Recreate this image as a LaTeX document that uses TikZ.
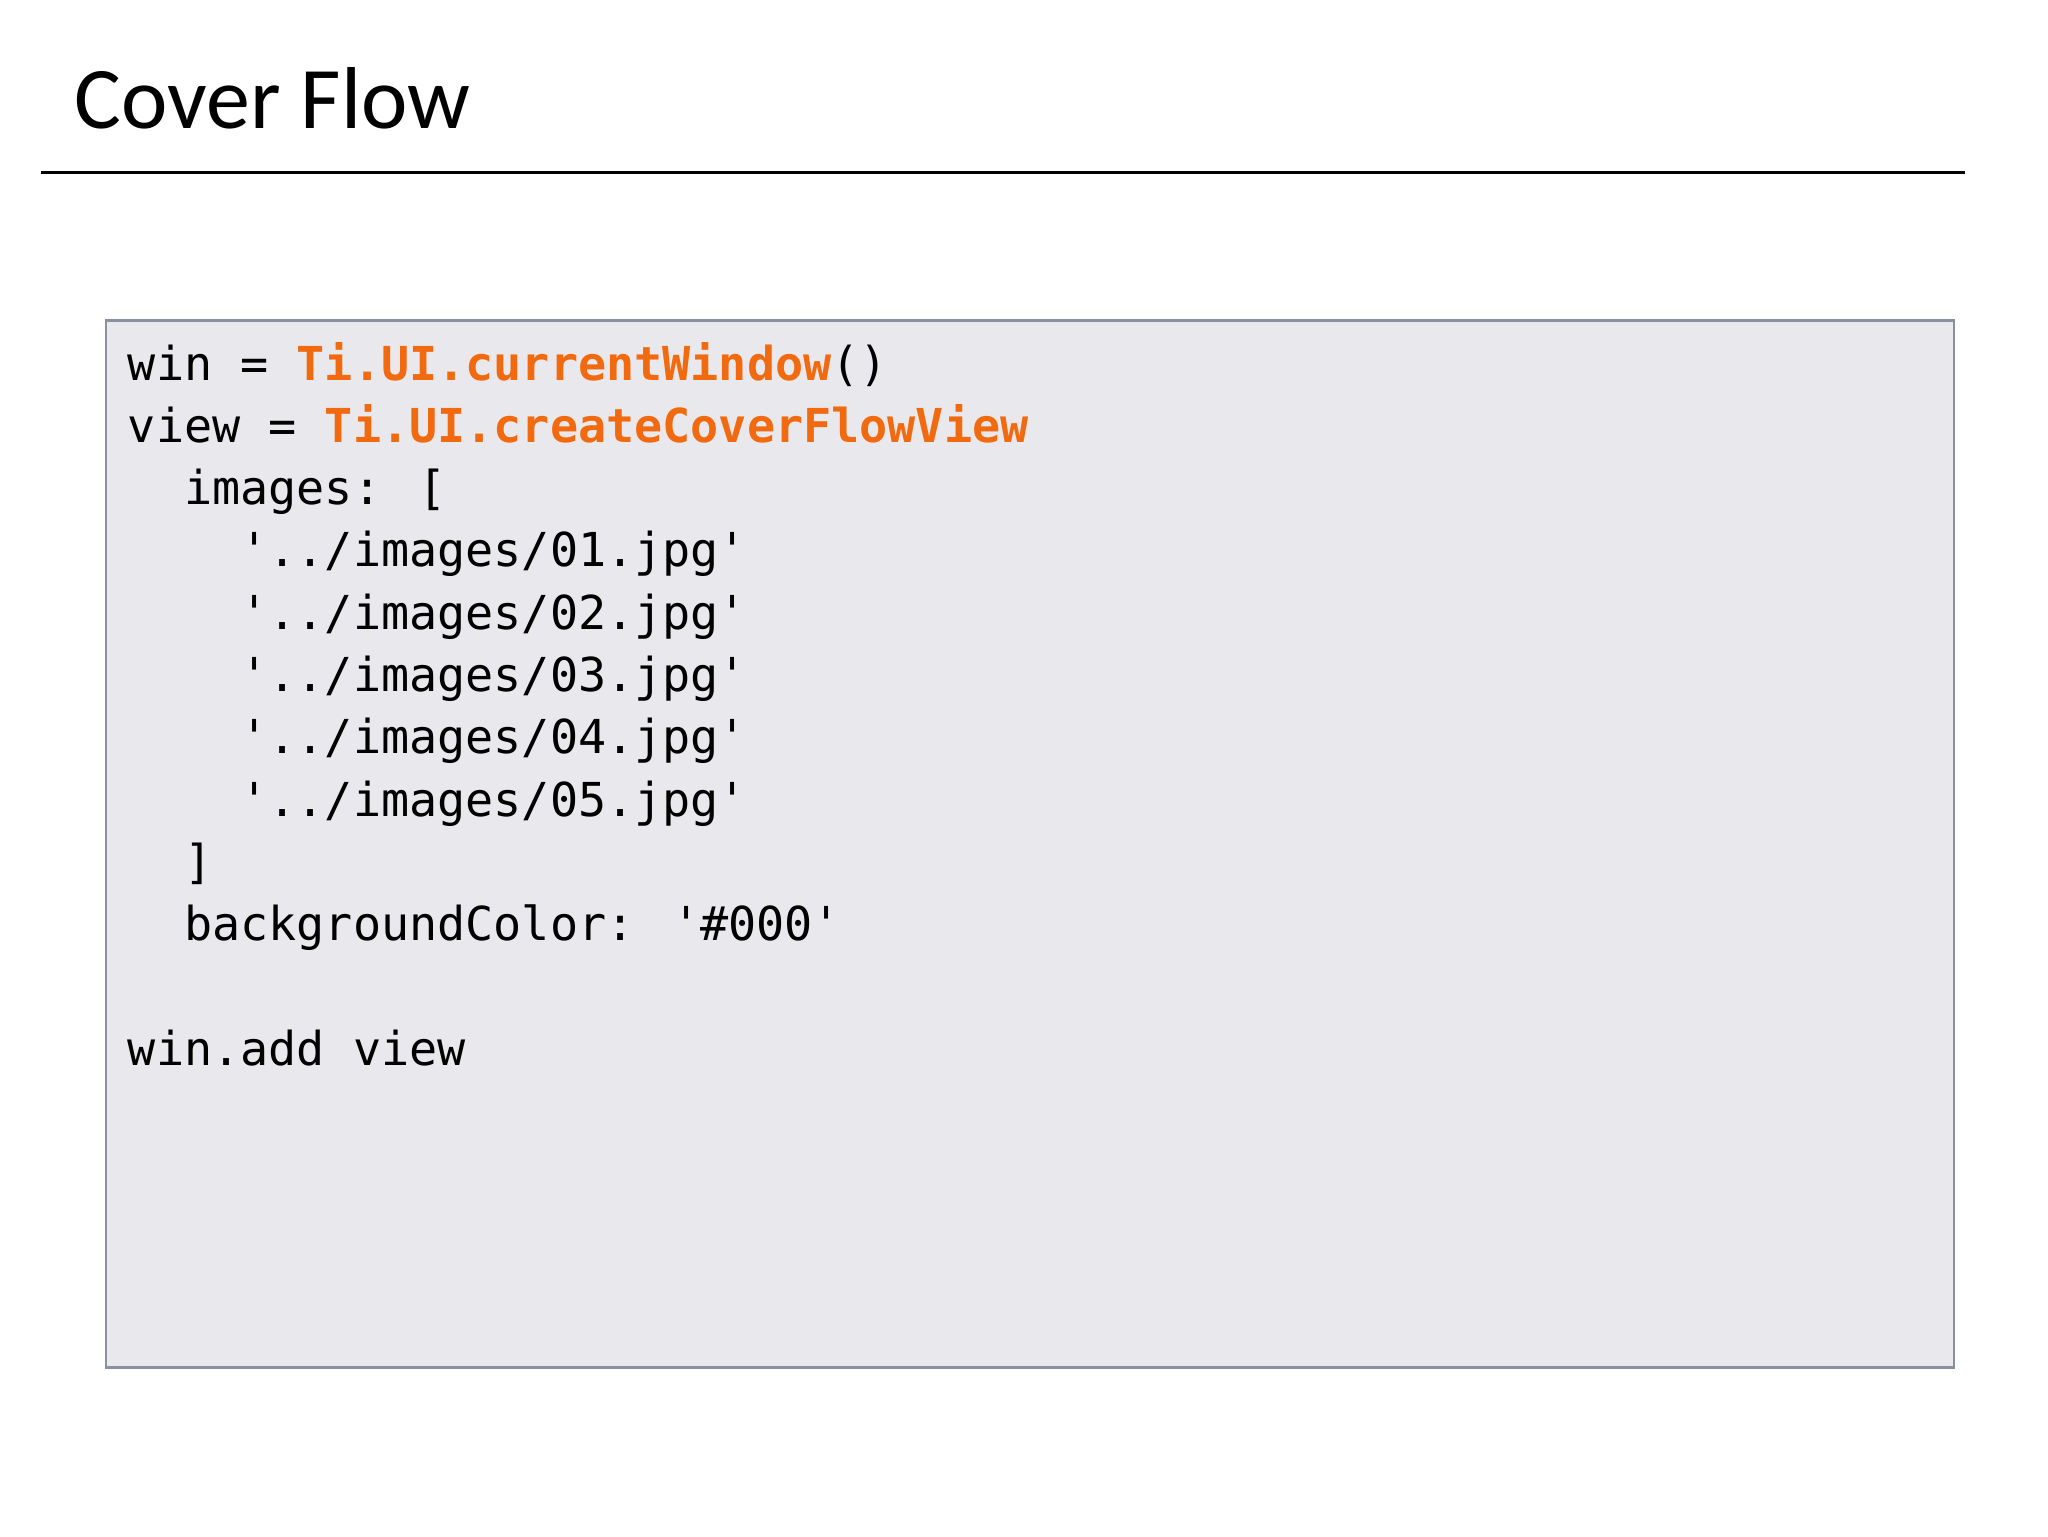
\documentclass[tikz,border=0pt]{standalone}
\usepackage{fontspec}
\setmainfont{Carlito}
\newfontfamily\codefont{DejaVu Sans Mono}
\definecolor{boxfill}{HTML}{E9E8EC}
\definecolor{boxline}{HTML}{8A90A0}
\definecolor{kw}{HTML}{F26A0F}
\begin{document}
\begin{tikzpicture}[x=0.013247cm,y=-0.013247cm,
  code/.style={anchor=base west,inner sep=0pt,font=\codefont\fontsize{13.3pt}{16pt}\selectfont}]
\useasboundingbox (0,0) rectangle (1546,1160);
\node[anchor=base west,inner sep=0pt,font=\fontsize{25pt}{30pt}\selectfont] (title) at (56,97) {Cover Flow};
\draw[line width=0.9pt] (31,130) -- (1483,130);
\draw[fill=boxfill,draw=boxline,line width=0.8pt] (80,242) rectangle (1475,1032);
\node[code] (l1) at (96,287) {win = \textcolor{kw}{\bfseries Ti.UI.currentWindow}()};
\node[code] (l2) at (96,334) {view = \textcolor{kw}{\bfseries Ti.UI.createCoverFlowView}};
\node[code] (l3) at (96,381) {\ \ images: [};
\node[code] (l4) at (96,428) {\ \ \ \ '../images/01.jpg'};
\node[code] (l5) at (96,475) {\ \ \ \ '../images/02.jpg'};
\node[code] (l6) at (96,522) {\ \ \ \ '../images/03.jpg'};
\node[code] (l7) at (96,569) {\ \ \ \ '../images/04.jpg'};
\node[code] (l8) at (96,616) {\ \ \ \ '../images/05.jpg'};
\node[code] (l9) at (96,663) {\ \ ]};
\node[code] (l10) at (96,710) {\ \ backgroundColor: '\#000'};
\node[code] (l11) at (96,804) {win.add view};
\end{tikzpicture}
\end{document}
